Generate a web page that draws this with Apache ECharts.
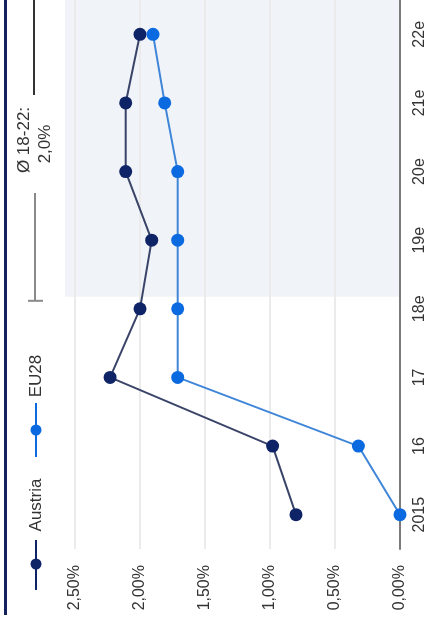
<!DOCTYPE html>
<html>
<head>
<meta charset="utf-8">
<script src="https://cdn.jsdelivr.net/npm/echarts@6/dist/echarts.min.js"></script>
<style>
html,body{margin:0;padding:0;background:#fff;}
#main{width:428px;height:629px;}
</style>
</head>
<body>
<div id="main"></div>
<script>
const categories = ['2015', '16', '17', '18e', '19e', '20e', '21e', '22e'];
const austria = [0.8, 0.98, 2.23, 2.0, 1.91, 2.11, 2.11, 2.0];
const eu28 = [0.0, 0.32, 1.71, 1.71, 1.71, 1.71, 1.81, 1.9];
const seriesNames = ['Austria', 'EU28'];
const annotationLines = ['Ø 18-22:', '2,0%'];
const shadeFrom = '18e';

const FONT = 'Liberation Sans, Arial, sans-serif';
const navy = '#0f2466';
const navyLine = '#3a4468';
const blue = '#0b6ae0';
const blueLine = '#3f86d8';

const chart = echarts.init(document.getElementById('main'), null, {renderer: 'canvas'});

function fmt(v) { return v.toFixed(2).replace('.', ',') + '%'; }

const option = {
  animation: false,
  grid: {left: 75, right: 28, top: -1, bottom: 80},
  xAxis: {
    type: 'value', inverse: true, min: 0, max: 2.5, interval: 0.5, position: 'bottom',
    axisLine: {show: false}, axisTick: {show: false},
    splitLine: {lineStyle: {color: '#ebebeb', width: 2}},
    axisLabel: {rotate: 90, margin: 16, fontSize: 16, color: '#333', fontFamily: FONT, formatter: fmt}
  },
  yAxis: {
    type: 'category', position: 'right', data: categories,
    axisLine: {lineStyle: {color: '#7a7a7a', width: 2}},
    axisTick: {show: false}, splitLine: {show: false},
    axisLabel: {rotate: 90, margin: 12, fontSize: 16, color: '#333', fontFamily: FONT}
  },
  series: [
    {name: seriesNames[0], type: 'line', data: austria, symbol: 'circle', symbolSize: 13,
     lineStyle: {color: navyLine, width: 2}, itemStyle: {color: navy}, z: 3},
    {name: seriesNames[1], type: 'line', data: eu28, symbol: 'circle', symbolSize: 13,
     lineStyle: {color: blueLine, width: 2}, itemStyle: {color: blue}, z: 4}
  ]
};
chart.setOption(option);

const yShade = chart.convertToPixel({yAxisIndex: 0}, shadeFrom);
const xLeft = chart.convertToPixel({xAxisIndex: 0}, 2.5);
const xZero = chart.convertToPixel({xAxisIndex: 0}, 0);
const shadeBottom = yShade - 12;

function rotText(x, y, text, size, color) {
  return {type: 'text', x: x, y: y, rotation: Math.PI / 2,
    style: {text: text, font: size + 'px ' + FONT, fill: color, align: 'center', verticalAlign: 'middle'}};
}

const legendItems = [
  {name: seriesNames[0], lineY: [540, 590], markY: 564, textY: 505, c: navy, lc: navy},
  {name: seriesNames[1], lineY: [403, 457], markY: 430, textY: 376, c: blue, lc: blue}
];
const graphics = [
  {type: 'rect', z: -10, shape: {x: xLeft - 10, y: 0, width: xZero - (xLeft - 10), height: shadeBottom},
   style: {fill: '#f0f3f8'}},
  {type: 'rect', z: 10, shape: {x: 4, y: 0, width: 3, height: 615}, style: {fill: '#13225e'}},
  {type: 'line', shape: {x1: 35, y1: shadeBottom + 4, x2: 35, y2: 193}, style: {stroke: '#8a8a8a', lineWidth: 2}},
  {type: 'line', shape: {x1: 28, y1: shadeBottom + 4, x2: 43, y2: shadeBottom + 4}, style: {stroke: '#8a8a8a', lineWidth: 2}},
  {type: 'line', shape: {x1: 34, y1: 0, x2: 34, y2: 95}, style: {stroke: '#333', lineWidth: 2}},
  rotText(24, 140, annotationLines[0], 17, '#333'),
  rotText(45, 144, annotationLines[1], 17, '#333')
];
legendItems.forEach(function (it) {
  graphics.push({type: 'line', shape: {x1: 36, y1: it.lineY[0], x2: 36, y2: it.lineY[1]}, style: {stroke: it.lc, lineWidth: 2}});
  graphics.push({type: 'circle', shape: {cx: 36, cy: it.markY, r: 5.5}, style: {fill: it.c}});
  graphics.push(rotText(36, it.textY, it.name, 17, '#333'));
});
chart.setOption({graphic: graphics});
</script>
</body>
</html>
